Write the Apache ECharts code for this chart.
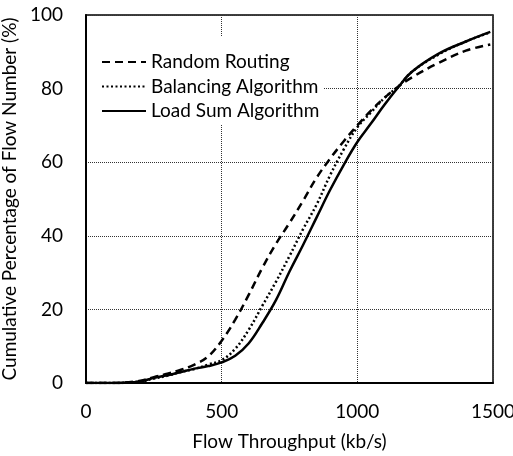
<!DOCTYPE html>
<html>
<head>
<meta charset="utf-8">
<script src="https://cdn.jsdelivr.net/npm/echarts@6/dist/echarts.min.js"></script>
<style>
html, body { margin: 0; padding: 0; background: #fff; }
#chart { width: 513px; height: 456px; }
</style>
</head>
<body>
<div id="chart"></div>
<script>
// throughput points (kb/s) shared by all three curves
var throughput = [0, 100, 200, 250, 300, 350, 400, 450, 500, 550, 600, 650, 700, 750, 800, 850, 900, 950, 1000, 1050, 1100, 1150, 1200, 1300, 1400, 1490];
// cumulative percentage
var randomRouting = [0, 0, 0.6, 1.6, 2.5, 3.6, 5, 7.2, 11.5, 17.2, 24, 31.3, 37.8, 43.5, 49.5, 55.8, 61, 65.7, 70, 74, 77.5, 80.5, 83, 87, 90.3, 92];
var balancingAlg  = [0, 0, 0.4, 1.2, 2, 3, 3.8, 5, 6.2, 9.3, 14.5, 21, 27.5, 34.5, 41.8, 48.5, 56.5, 63.5, 69.5, 73.5, 77.5, 80.5, 84.5, 89.3, 92.8, 95.3];
var loadSumAlg    = [0, 0, 0.4, 1.4, 2.1, 3, 3.9, 4.6, 5.6, 7.4, 10.8, 16.3, 22.5, 30.3, 37.5, 45, 52.5, 59.3, 65.5, 70.5, 75.6, 80.3, 84.5, 89.5, 92.8, 95.4];
var seriesNames = ['Random Routing', 'Balancing Algorithm', 'Load Sum Algorithm'];

function pairs(ys) {
  return throughput.map(function (x, i) { return [x, ys[i]]; });
}

var font = 'Lato, "Open Sans", sans-serif';
var chart = echarts.init(document.getElementById('chart'));

chart.setOption({
  animation: false,
  grid: {
    left: 86, right: 20, top: 15, bottom: 73,
    outerBoundsMode: 'none',
    containLabel: false,
    show: true,
    borderColor: '#000',
    borderWidth: 1.5
  },
  legend: {
    orient: 'vertical',
    left: 88,
    top: 36,
    padding: [16, 4, 4, 13],
    itemGap: 4.5,
    itemWidth: 44,
    itemHeight: 14,
    backgroundColor: '#fff',
    itemStyle: { opacity: 0 },
    data: seriesNames,
    textStyle: { fontFamily: font, fontSize: 19, color: '#000', lineHeight: 20 }
  },
  xAxis: {
    type: 'value',
    min: 0, max: 1500, interval: 500,
    name: 'Flow Throughput (kb/s)',
    nameLocation: 'middle',
    nameGap: 49,
    nameTextStyle: { fontFamily: font, fontSize: 19, color: '#000' },
    axisLine: { lineStyle: { color: '#000', width: 2 } },
    axisTick: { show: false },
    axisLabel: { fontFamily: font, fontSize: 19, color: '#000', margin: 19, formatter: function (v) { return String(v); } },
    splitLine: { lineStyle: { color: '#333', type: [1, 1], width: 1 } }
  },
  yAxis: {
    type: 'value',
    min: 0, max: 100, interval: 20,
    name: 'Cumulative Percentage of Flow Number (%)',
    nameLocation: 'middle',
    nameGap: 64,
    nameTextStyle: { fontFamily: font, fontSize: 19, color: '#000' },
    axisLine: { show: true, lineStyle: { color: '#000', width: 2 } },
    axisTick: { show: false },
    axisLabel: { fontFamily: font, fontSize: 19, color: '#000', margin: 23 },
    splitLine: { lineStyle: { color: '#333', type: [1, 1], width: 1 } }
  },
  series: [
    {
      name: seriesNames[0], type: 'line', smooth: 0.4, symbol: 'none',
      data: pairs(randomRouting),
      lineStyle: { color: '#000', width: 2.5, type: [8, 5] },
      itemStyle: { color: '#000' }
    },
    {
      name: seriesNames[1], type: 'line', smooth: 0.4, symbol: 'none',
      data: pairs(balancingAlg),
      lineStyle: { color: '#000', width: 2.5, type: [2, 2.5] },
      itemStyle: { color: '#000' }
    },
    {
      name: seriesNames[2], type: 'line', smooth: 0.4, symbol: 'none',
      data: pairs(loadSumAlg),
      lineStyle: { color: '#000', width: 2.5, type: 'solid' },
      itemStyle: { color: '#000' }
    }
  ]
});
</script>
</body>
</html>
